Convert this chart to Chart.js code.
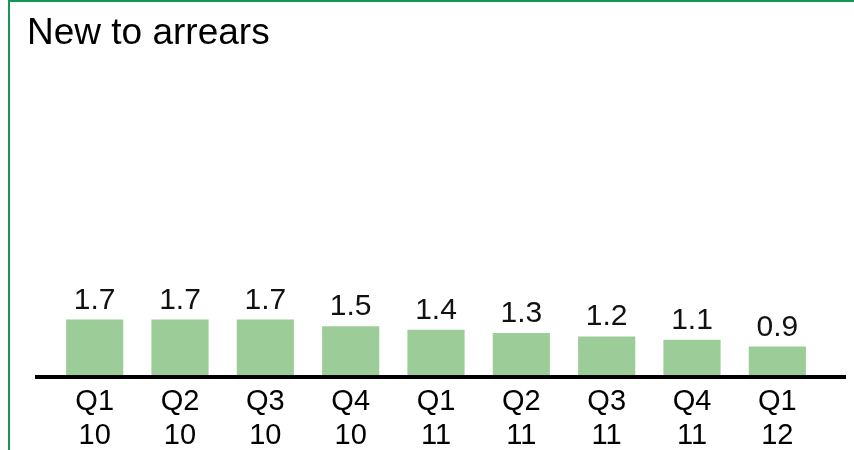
<!DOCTYPE html>
<html>
<head>
<meta charset="utf-8">
<script src="https://cdn.jsdelivr.net/npm/chart.js@4"></script>
<style>
  html, body { margin: 0; padding: 0; background: #fff; }
  #frame { position: absolute; left: 8px; top: 0; width: 850px; height: 460px;
           border-top: 2px solid #13985a; border-left: 2px solid #13985a; }
  #wrap { position: absolute; left: 0; top: 0; width: 854px; height: 450px; }
</style>
</head>
<body>
<div id="frame"></div>
<div id="wrap"><canvas id="barChart"></canvas></div>
<script>
// data
const quarters = ['Q1', 'Q2', 'Q3', 'Q4', 'Q1', 'Q2', 'Q3', 'Q4', 'Q1'];
const years = ['10', '10', '10', '10', '11', '11', '11', '11', '12'];
const values = [1.7, 1.7, 1.7, 1.5, 1.4, 1.3, 1.2, 1.1, 0.9];

const labels = quarters.map((q, i) => [q, years[i]]);
const fontFamily = "'Liberation Sans', Arial, sans-serif";

// value labels above each bar
const barValues = {
  id: 'barValues',
  afterDatasetsDraw(chart) {
    const ctx = chart.ctx;
    ctx.save();
    ctx.font = '30px ' + fontFamily;
    ctx.fillStyle = '#111';
    ctx.textAlign = 'center';
    ctx.textBaseline = 'alphabetic';
    chart.getDatasetMeta(0).data.forEach((bar, i) => {
      ctx.fillText(values[i].toFixed(1), bar.x, bar.y - 11);
    });
    ctx.restore();
  }
};

// thick black baseline, a bit wider than the plot
const baseLine = {
  id: 'baseLine',
  afterDatasetsDraw(chart) {
    const ctx = chart.ctx;
    const a = chart.chartArea;
    const y = chart.scales.y.getPixelForValue(0);
    ctx.save();
    ctx.strokeStyle = '#000';
    ctx.lineWidth = 4;
    ctx.beginPath();
    ctx.moveTo(a.left - 17, y);
    ctx.lineTo(a.right + 26, y);
    ctx.stroke();
    ctx.restore();
  }
};

const data = {
  labels: labels,
  datasets: [{
    label: 'New to arrears',
    data: values,
    backgroundColor: '#9ccc97',
    borderWidth: 0,
    categoryPercentage: 1,
    barPercentage: 0.67
  }]
};

const config = {
  type: 'bar',
  data: data,
  options: {
    responsive: true,
    maintainAspectRatio: false,
    animation: false,
    layout: { padding: { left: 27, right: 34, top: 0, bottom: 0 } },
    plugins: {
      legend: { display: false },
      tooltip: { enabled: false },
      title: {
        display: true,
        text: 'New to arrears',
        align: 'start',
        color: '#000',
        font: { family: fontFamily, size: 37, weight: 'normal', lineHeight: 1.2 },
        padding: { top: 12, bottom: 8 }
      }
    },
    scales: {
      x: {
        grid: { display: false },
        border: { display: false },
        ticks: {
          color: '#000',
          padding: 0,
          maxRotation: 0,
          autoSkip: false,
          font: { family: fontFamily, size: 29, lineHeight: 1.17 }
        },
        afterFit(scale) { scale.height = 73; }
      },
      y: {
        min: 0,
        max: 9.25,
        grid: { display: false },
        border: { display: false },
        ticks: { display: false },
        afterFit(scale) { scale.width = 25; }
      }
    }
  },
  plugins: [barValues, baseLine]
};

new Chart(document.getElementById('barChart'), config);
</script>
</body>
</html>
